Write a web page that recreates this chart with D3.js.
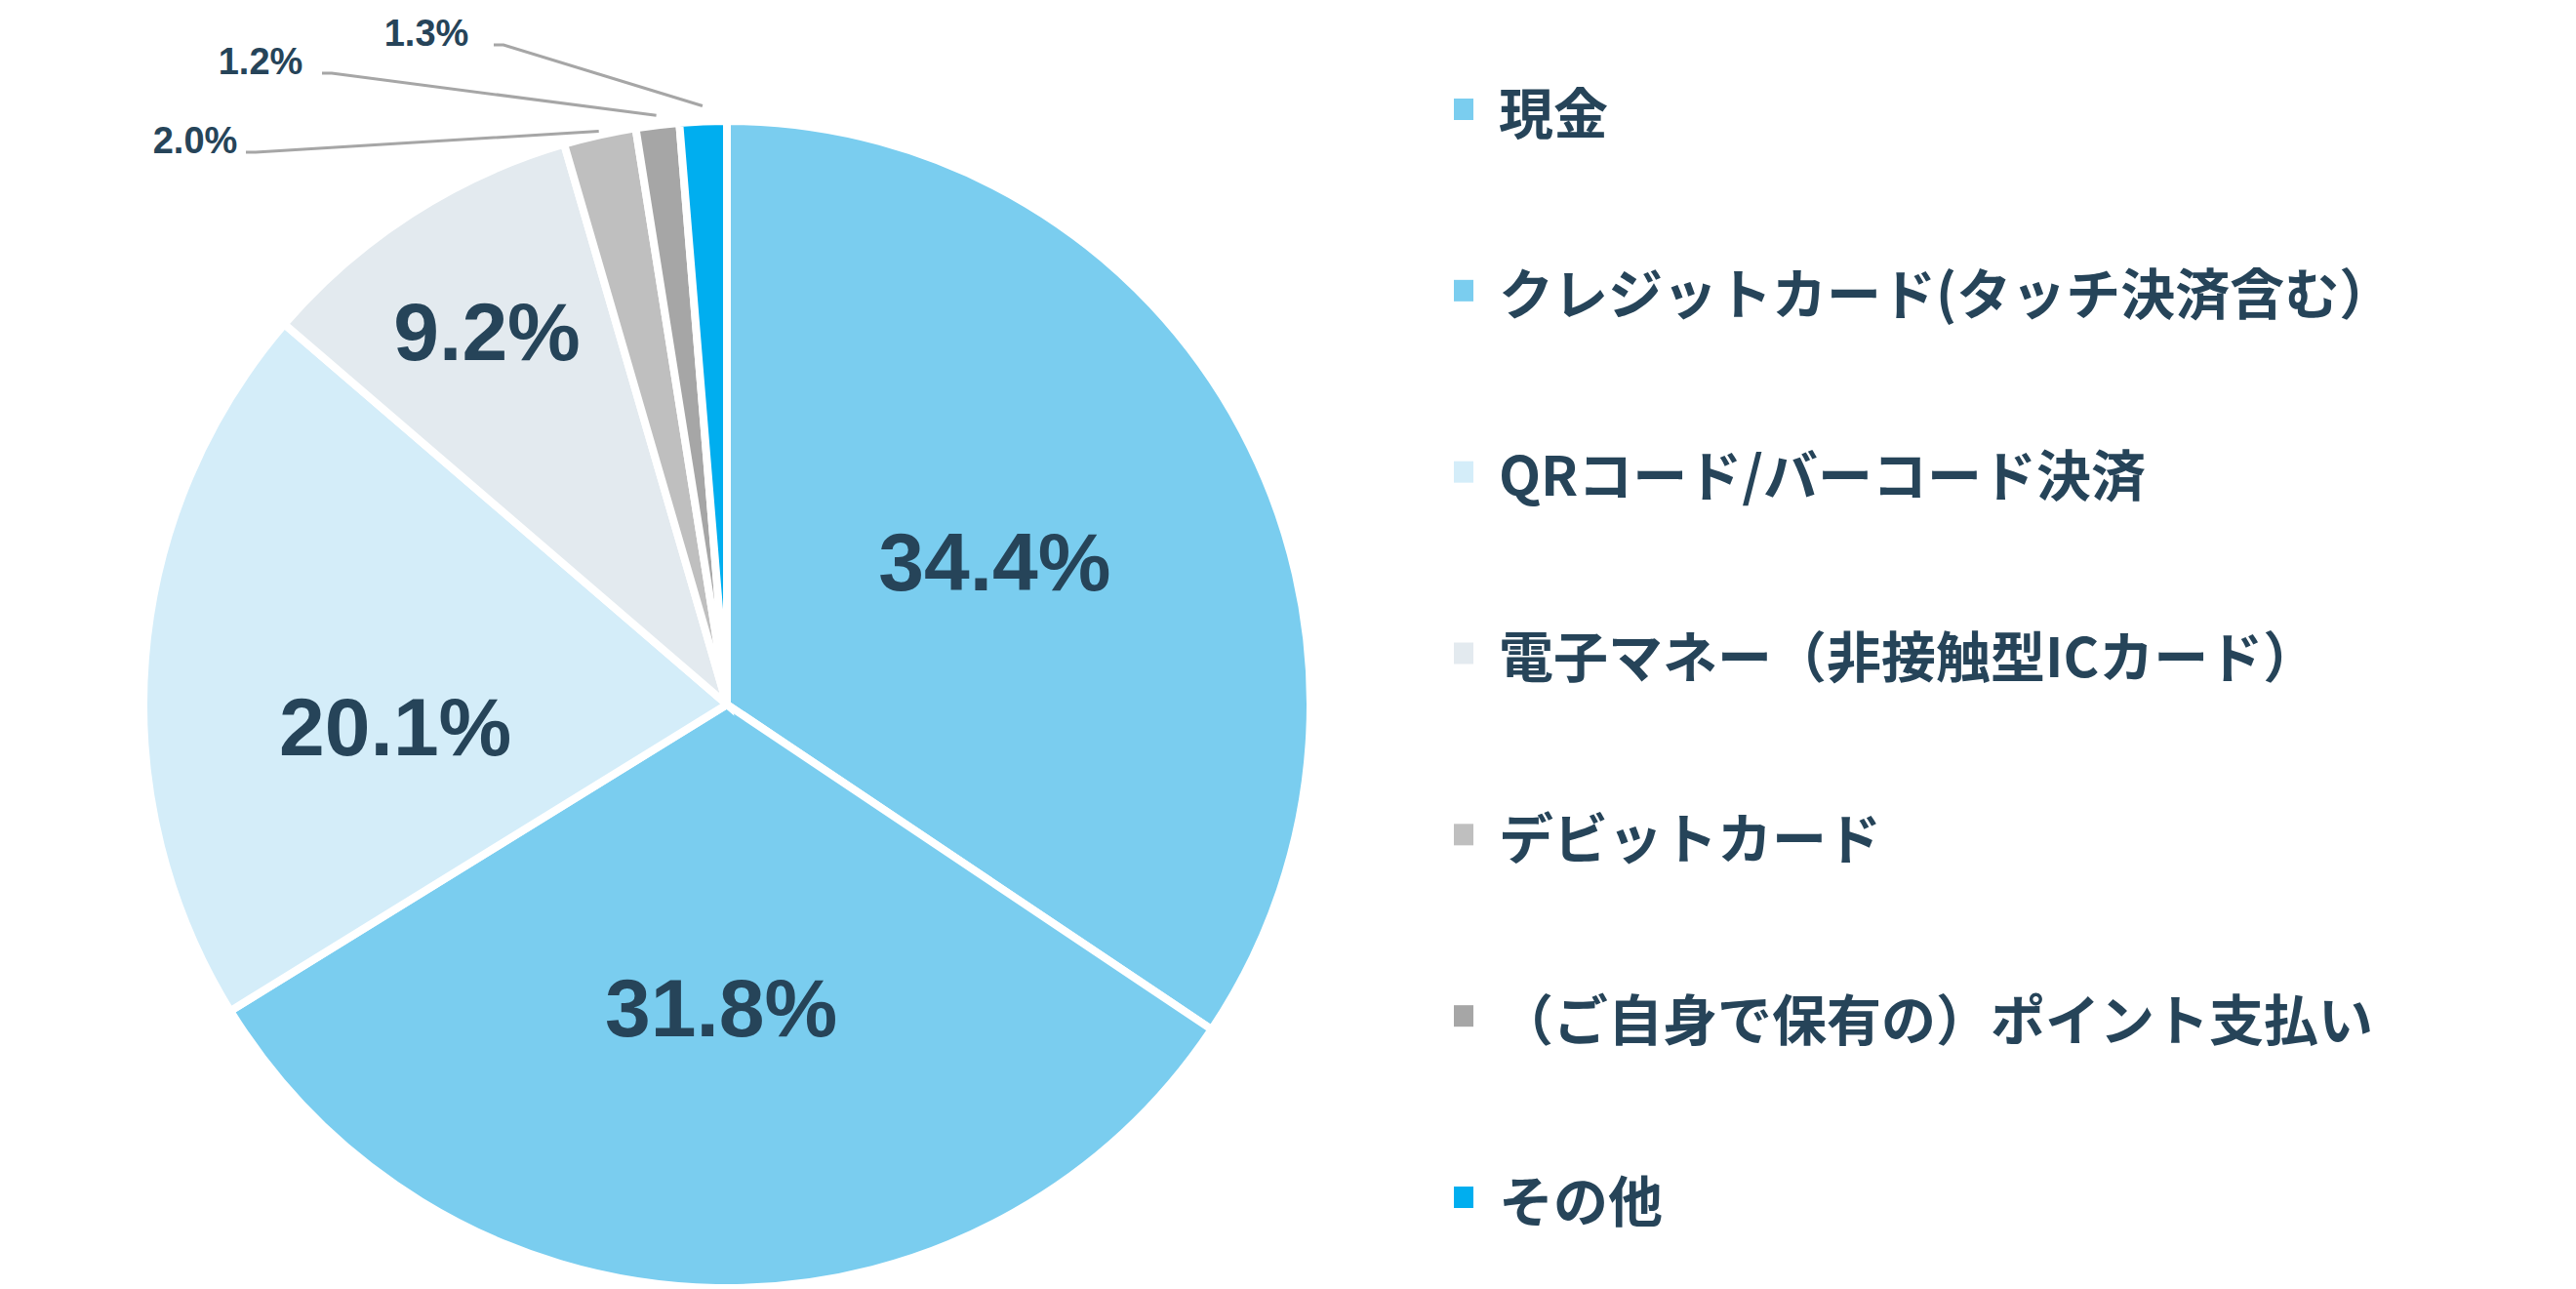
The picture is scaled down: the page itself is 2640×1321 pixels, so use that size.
<!DOCTYPE html>
<html><head><meta charset="utf-8">
<script src="https://cdn.jsdelivr.net/npm/d3@7"></script>
<style>body{margin:0;background:#fff}</style></head>
<body><svg id="c" width="2640" height="1321"></svg>
<script>
const categories = ["現金","クレジットカード(タッチ決済含む）","QRコード/バーコード決済","電子マネー（非接触型ICカード）","デビットカード","（ご自身で保有の）ポイント支払い","その他"];
const values = [34.4,31.8,20.1,9.2,2.0,1.2,1.3];
const colors = ["#7acdef","#7acdef","#d4edf9","#e3eaef","#bfbfbf","#a6a6a6","#00aeef"];
const labelRadius = [0.52,0.52,0.57,0.76];
const smallLabelPos = [[200,144,262,609],[267,63,340,668],[437,34,516,694]]; // [textX,textY,lineStartX,..] text anchors
const svg = d3.select("#c");
const cx=745, cy=722, r=598;
const g = svg.append("g").attr("transform",`translate(${cx},${cy})`);
const pie = d3.pie().sort(null).value(d=>d);
const arcs = pie(values);
const arc = d3.arc().innerRadius(0).outerRadius(r);
g.selectAll("path").data(arcs).join("path").attr("d",arc)
 .attr("fill",(d,i)=>colors[i]).attr("stroke","#fff").attr("stroke-width",8).attr("stroke-linejoin","miter");
const dark="#264459";
arcs.slice(0,4).forEach((d,i)=>{
  const a=(d.startAngle+d.endAngle)/2, rr=r*labelRadius[i];
  g.append("text").attr("x",rr*Math.sin(a)).attr("y",-rr*Math.cos(a)+(i==2?50:0))
   .attr("text-anchor","middle").attr("dominant-baseline","central")
   .attr("font-family","Liberation Sans, Arial").attr("font-weight","bold").attr("font-size",84)
   .attr("fill",dark).text(values[i].toFixed(1)+"%");
});
// small labels with leaders
arcs.slice(4).forEach((d,j)=>{
  const a=(d.startAngle+d.endAngle)/2, ro=r+4+j*6;
  const ex=cx+ro*Math.sin(a), ey=cy-ro*Math.cos(a);
  const [tx,ty,lx]=smallLabelPos[j];
  svg.append("polyline").attr("points",`${lx-10},${ty+12} ${lx},${ty+12} ${ex},${ey}`)
   .attr("fill","none").attr("stroke","#a6a6a6").attr("stroke-width",3);
  svg.append("text").attr("x",tx).attr("y",ty).attr("text-anchor","middle").attr("dominant-baseline","central")
   .attr("font-family","Liberation Sans, Arial").attr("font-weight","bold").attr("font-size",38)
   .attr("fill",dark).text(values[4+j].toFixed(1)+"%");
});
// legend
const ly = d3.scalePoint().domain(categories).range([112,1227]);
const lg = svg.append("g").selectAll("g").data(categories).join("g").attr("transform",d=>`translate(1490,${ly(d)})`);
lg.append("rect").attr("x",0).attr("y",-11).attr("width",20).attr("height",22).attr("fill",(d,i)=>colors[i]);
lg.append("text").attr("x",46).attr("y",0).attr("dominant-baseline","central")
 .attr("font-family","Noto Sans CJK JP").attr("font-weight","bold").attr("font-size",56)
 .attr("fill",dark).text(d=>d);
</script></body></html>
